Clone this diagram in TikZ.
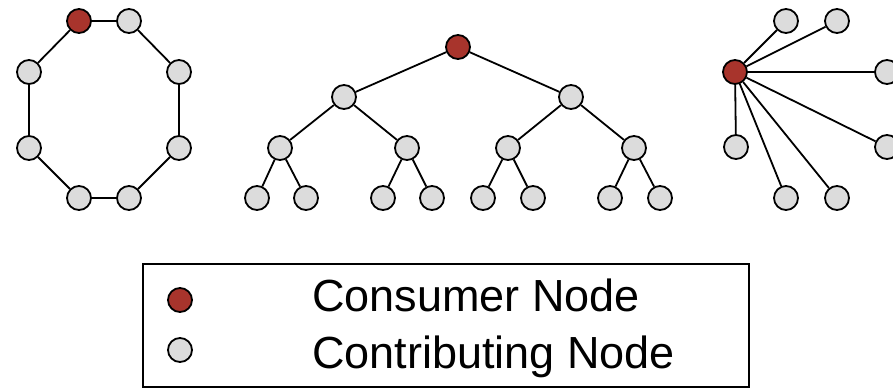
\documentclass[tikz,border=0pt]{standalone}
\usepackage{fontspec}
\setmainfont{Liberation Sans}
\usepackage{tikz}
\usetikzlibrary{positioning}
\definecolor{consumer}{RGB}{168,52,44}
\definecolor{contrib}{RGB}{220,220,220}
\tikzset{
  peer/.style={circle, draw=black, line width=1.8pt, fill=contrib, minimum size=24pt, inner sep=0pt},
  sink/.style={peer, fill=consumer},
  link/.style={line width=1.8pt},
  keytext/.style={anchor=base west, inner sep=0pt, font=\fontsize{45}{54}\selectfont},
}

\begin{document}
\begin{tikzpicture}[x=1pt,y=-1pt]
    \useasboundingbox (0,0) rectangle (893,389);
    % ring
    \node[sink] (r1) at (79,21) {};
    \foreach \n/\x/\y in {2/129/21, 3/179/72, 4/179/148, 5/129/198, 6/79/198, 7/29/148, 8/29/72}
        \node[peer] (r\n) at (\x,\y) {};
    \foreach \a/\b in {1/2, 2/3, 3/4, 4/5, 5/6, 6/7, 7/8, 8/1}
        \draw[link] (r\a) -- (r\b);
    % tree
    \node[sink] (t) at (458,47) {};
    \node[peer] (a1) at (344,97) {};
    \node[peer] (a2) at (571,97) {};
    \foreach \n/\x in {1/280, 2/407, 3/508, 4/634}
        \node[peer] (b\n) at (\x,148) {};
    \foreach \n/\x in {1/257, 2/306, 3/383, 4/432, 5/483, 6/533, 7/610, 8/660}
        \node[peer] (c\n) at (\x,198) {};
    \foreach \p/\c in {t/a1, t/a2, a1/b1, a1/b2, a2/b3, a2/b4, b1/c1, b1/c2, b2/c3, b2/c4, b3/c5, b3/c6, b4/c7, b4/c8}
        \draw[link] (\p) -- (\c);
    % star
    \node[sink] (s0) at (735,72) {};
    \foreach \n/\x/\y in {1/786/21, 2/837/21, 3/887/72, 4/887/147, 5/837/198, 6/786/198, 7/736/147}
        \node[peer] (s\n) at (\x,\y) {};
    \foreach \n in {1,...,7}
        \draw[link] (s0) -- (s\n);
    % legend
    \draw[line width=1.8pt] (143,264) rectangle (749,387);
    \node[sink] (keyred) at (180,300) {};
    \node[peer] (keygray) at (180,350) {};
    \node[keytext] (keyredlbl) at (312,311) {Consumer Node};
    \node[keytext] (keygraylbl) at (312,368) {Contributing Node};
\end{tikzpicture}
\end{document}
